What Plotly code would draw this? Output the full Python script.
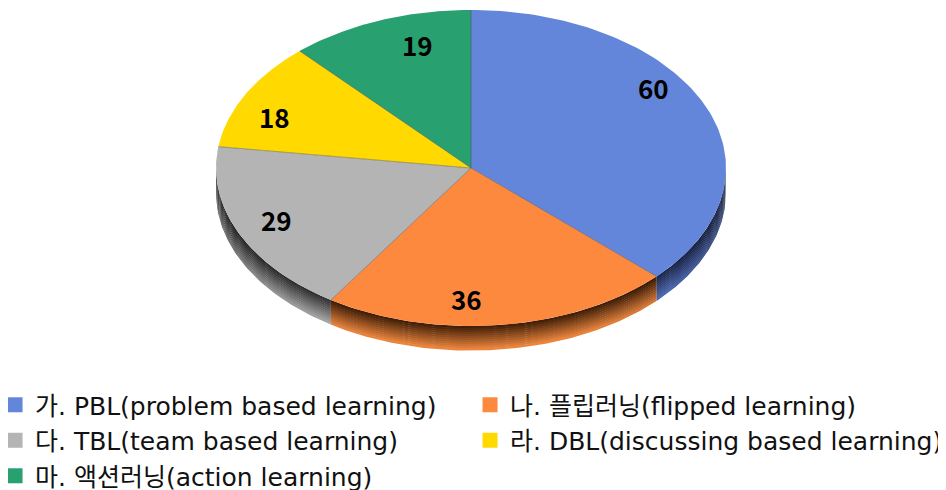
import numpy as np
import plotly.graph_objects as go

# ---------------- data ----------------
categories = [
    "가. PBL(problem based learning)",
    "나. 플립러닝(flipped learning)",
    "다. TBL(team based learning)",
    "라. DBL(discussing based learning)",
    "마. 액션러닝(action learning)",
]
values = [60, 36, 29, 18, 19]

# ---------------- style ----------------
face_colors = ["#6386DA", "#FD893F", "#B4B4B4", "#FFD900", "#28A070"]
wall_dark = ["#1C2850", "#3A1A04", "#2E2E2E", "#6B5A00", "#0E3A28"]
wall_light = ["#5B7CD2", "#F38A40", "#B0B0B0", "#F0CC00", "#26966A"]
label_shift = [(-12, 29), (-29, 0), (-2, 3), (-9, -10), (23, 1)]  # px nudges
legend_column = ["legend", "legend2", "legend", "legend2", "legend"]
A, B, DEPTH = 255.0, 158.0, 24.0      # ellipse semi-axes and wall depth (px)
PAGE_OFFSET = 8.0                     # browser body margin
CX, CY = 471.0 - PAGE_OFFSET, 168.0 - PAGE_OFFSET   # pie centre in figure px
W, H = 946, 490
N_STRIPS = 12
label_r = 0.83
label_font = "Noto Sans CJK KR"
legend_font = "DejaVu Sans, Noto Sans CJK KR"


def hex2rgb(h):
    h = h.lstrip("#")
    return np.array([int(h[i:i + 2], 16) for i in (0, 2, 4)], float)


def rgb(c):
    c = np.clip(c, 0, 255)
    return "rgb(%d,%d,%d)" % tuple(int(round(v)) for v in c)


total = float(sum(values))
spans = [360.0 * v / total for v in values]
starts = [90.0 - sum(spans[:i]) for i in range(len(values))]
ends = [s - sp for s, sp in zip(starts, spans)]

fig = go.Figure()

# ---------- side walls (front half only) ----------
for i in range(len(values)):
    lo, hi = ends[i], starts[i]
    for off in (-360.0, 0.0, 360.0):
        a0, a1 = max(lo + off, -180.0), min(hi + off, 0.0)
        if a1 - a0 <= 0.01:
            continue
        t = np.radians(np.linspace(a0, a1, 80))
        xs = A * np.cos(t)
        ys = B * np.sin(t)
        dark, light = hex2rgb(wall_dark[i]), hex2rgb(wall_light[i])
        for j in range(N_STRIPS):
            d0 = DEPTH * j / N_STRIPS
            d1 = DEPTH * (j + 1) / N_STRIPS + 0.6
            f = (j + 0.5) / N_STRIPS
            base = dark + (light - dark) * f
            px = np.concatenate([xs, xs[::-1], xs[:1]])
            py = np.concatenate([ys - d0, ys[::-1] - d1, ys[:1] - d0])
            xmin, xmax = float(xs.min()), float(xs.max())
            stops = np.linspace(0, 1, 7)
            cs = []
            for s in stops:
                xx = xmin + (xmax - xmin) * s
                u = abs(xx) / A
                shade = 1.0 - 0.45 * u ** 4
                cs.append([float(s), rgb(base * shade)])
            fig.add_trace(go.Scatter(
                x=px, y=py, mode="lines", fill="toself",
                fillcolor=rgb(base), line=dict(width=0),
                fillgradient=dict(type="horizontal", colorscale=cs,
                                  start=xmin, stop=xmax if xmax > xmin else xmin + 1),
                hoverinfo="skip", showlegend=False))

# ---------- top faces ----------
for i in range(len(values)):
    t = np.radians(np.linspace(starts[i], ends[i], 120))
    px = np.concatenate([[0.0], A * np.cos(t), [0.0]])
    py = np.concatenate([[0.0], B * np.sin(t), [0.0]])
    fig.add_trace(go.Scatter(
        x=px, y=py, mode="lines", fill="toself",
        fillcolor=face_colors[i], line=dict(width=0),
        hoverinfo="text", text=f"{categories[i]}: {values[i]}",
        showlegend=False))

# thin dividers between slices
lx, ly = [], []
for s in starts[1:] + [ends[-1]]:
    r = np.radians(s)
    lx += [0.0, A * np.cos(r), None]
    ly += [0.0, B * np.sin(r), None]
fig.add_trace(go.Scatter(x=lx, y=ly, mode="lines",
                         line=dict(color="rgba(70,70,70,0.55)", width=0.8),
                         hoverinfo="skip", showlegend=False))

# ---------- legend entries (two columns = two legends) ----------
for i in range(len(values)):
    fig.add_trace(go.Scatter(
        x=[None], y=[None], mode="markers", name=categories[i],
        legend=legend_column[i], legendgroup=f"g{i}",
        marker=dict(symbol="square", size=15, color=face_colors[i]),
        showlegend=True))

# ---------- value labels ----------
for i in range(len(values)):
    mid = np.radians((starts[i] + ends[i]) / 2.0)
    fig.add_annotation(
        x=label_r * A * np.cos(mid), y=label_r * B * np.sin(mid),
        xshift=label_shift[i][0], yshift=label_shift[i][1],
        text=f"<b>{values[i]}</b>", showarrow=False,
        font=dict(family=label_font, size=26, color="#000000"))

legend_common = dict(
    orientation="v", xref="paper", yref="paper",
    xanchor="left", yanchor="top", tracegroupgap=0,
    font=dict(family=legend_font, size=25, color="#111111"),
    bgcolor="rgba(0,0,0,0)", traceorder="normal",
    itemclick=False, itemdoubleclick=False)

fig.update_layout(
    width=W, height=H,
    margin=dict(l=0, r=0, t=0, b=0, autoexpand=False),
    paper_bgcolor="white", plot_bgcolor="white",
    xaxis=dict(range=[-CX, W - CX], visible=False, fixedrange=True),
    yaxis=dict(range=[-(H - CY), CY], visible=False, fixedrange=True),
    showlegend=True,
    legend=dict(x=-0.0137, y=0.2367, **legend_common),
    legend2=dict(x=0.4884, y=0.2367, **legend_common),
)

fig.write_html("out.html")
